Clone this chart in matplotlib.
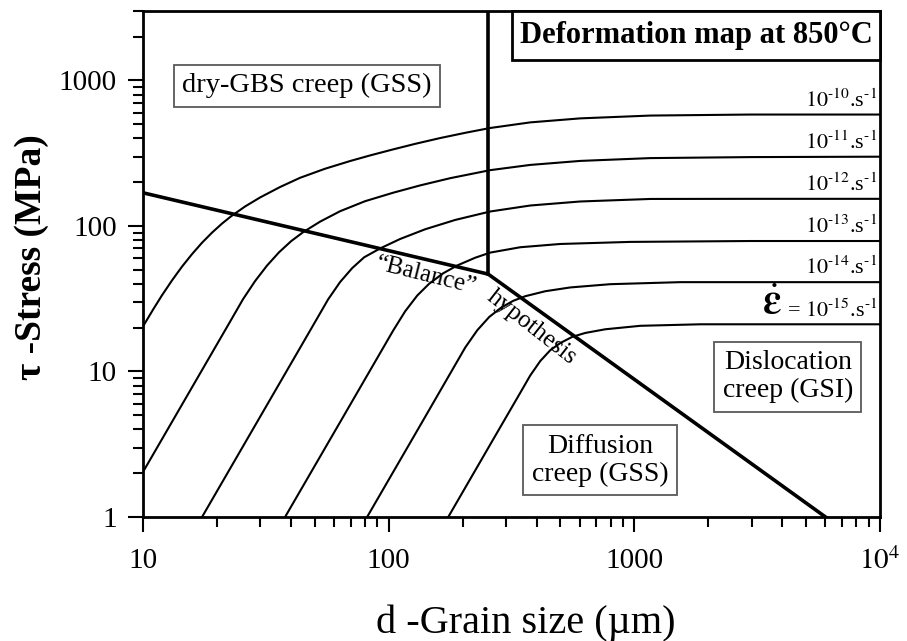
import matplotlib
matplotlib.use("Agg")
import matplotlib.pyplot as plt
from matplotlib.ticker import FixedLocator, LogLocator, NullFormatter
from matplotlib.patches import Rectangle

plt.rcParams['font.family'] = ['Liberation Serif', 'DejaVu Serif']
plt.rcParams['mathtext.fontset'] = 'stix'

# Iso-strain-rate contours: grain size d (µm) vs shear stress tau (MPa)
rate_exponents = [-10, -11, -12, -13, -14, -15]

d_rate_m10 = [10, 11.0, 11.95, 13.13, 14.42, 15.84, 17.39, 19.10, 20.98, 22.83,
              26.03, 29.97, 36.14, 43.6, 55.1, 69.7, 84.1, 104.3, 128.2, 162.1,
              204.9, 259, 377, 603, 1162, 2968, 10000]
tau_rate_m10 = [20.4, 26.7, 33.4, 42.3, 52.6, 64.1, 76.7, 90.0, 103.9, 116.5,
                136.1, 157.0, 185.2, 214.3, 247.3, 279.4, 305.4, 335.9, 366.6, 401.9,
                436.5, 471.2, 514.9, 548.7, 573.6, 582.9, 582.9]

d_rate_m11 = [10, 15.54, 22.62, 25.54, 28.59, 32.00, 35.81, 40.08, 44.84, 52.6,
              63.45, 80.2, 104.3, 134.4, 178.1, 259, 377, 603, 1162, 2968, 10000]
tau_rate_m11 = [2.04, 7.37, 22.0, 31.4, 41.8, 53.5, 66.0, 78.6, 90.6, 107.1,
                126.3, 148.0, 169.2, 190.0, 213.0, 241.8, 262.7, 279.9, 292.6, 297.3, 299.2]

d_rate_m12 = [17.39, 31.40, 47.88, 56.70, 63.45, 71.02, 79.47, 92.35, 111.4, 140.8,
              186.6, 259, 377, 603, 1162, 2968, 10000]
tau_rate_m12 = [1.0, 5.59, 19.1, 31.3, 41.2, 51.3, 60.9, 70.1, 81.4, 94.9,
                110.0, 125.7, 138.2, 147.3, 153.3, 153.6, 153.6]

d_rate_m13 = [37.87, 63.45, 104.3, 116.7, 130.6, 146.2, 166.7, 190.1, 225.1, 259,
              343.3, 500, 963, 2968, 10000]
tau_rate_m13 = [1.0, 4.49, 19.1, 25.9, 33.2, 40.1, 47.3, 53.5, 60.5, 65.6,
                71.4, 75.2, 77.7, 78.8, 78.8]

d_rate_m14 = [81.7, 134.4, 204.9, 229.4, 256.7, 287.3, 321.5, 359.7, 434.0, 548.7,
              798.5, 1539, 10000]
tau_rate_m14 = [1.0, 4.26, 14.6, 19.2, 23.7, 27.5, 30.6, 32.9, 35.6, 37.8,
                39.8, 41.1, 41.1]

d_rate_m15 = [174.8, 284.6, 343.3, 377.0, 414.1, 454.8, 500, 559.2, 631.6, 762.0,
              1058, 1857, 10000]
tau_rate_m15 = [1.0, 4.14, 7.14, 9.39, 11.8, 14.0, 15.7, 17.3, 18.4, 19.5,
                20.6, 21.1, 21.1]

# Mechanism boundaries
balance_d = [10, 254, 6000]
balance_tau = [169, 46.7, 1.0]
gbs_disl_d = [254, 254]
gbs_disl_tau = [46.7, 3000]

x_ticks = [10, 100, 1000, 10000]
x_ticklabels = ["10", "100", "1000", "$10^4$"]
y_ticks = [1, 10, 100, 1000]
y_ticklabels = ["1", "10", "100", "1000"]

contours = [
    (d_rate_m10, tau_rate_m10),
    (d_rate_m11, tau_rate_m11),
    (d_rate_m12, tau_rate_m12),
    (d_rate_m13, tau_rate_m13),
    (d_rate_m14, tau_rate_m14),
    (d_rate_m15, tau_rate_m15),
]

fig = plt.figure(figsize=(9.07, 6.41), dpi=100)
ax = fig.add_axes([143 / 907, 1 - 517 / 641, 737 / 907, 506 / 641])
ax.set_xscale('log')
ax.set_yscale('log')
ax.set_xlim(10, 10000)
ax.set_ylim(1, 3000)

for d, tau in contours:
    ax.plot(d, tau, color='black', lw=1.5, solid_joinstyle='round', zorder=2)

ax.plot(balance_d, balance_tau, color='black', lw=2.6, zorder=3)
ax.plot(gbs_disl_d, gbs_disl_tau, color='black', lw=2.6, zorder=3)

# Ticks
ax.xaxis.set_major_locator(FixedLocator(x_ticks))
ax.set_xticklabels(x_ticklabels)
ax.yaxis.set_major_locator(FixedLocator(y_ticks))
ax.set_yticklabels(y_ticklabels)
ax.xaxis.set_minor_locator(LogLocator(base=10, subs=range(2, 10)))
ax.yaxis.set_minor_locator(LogLocator(base=10, subs=range(2, 10)))
ax.xaxis.set_minor_formatter(NullFormatter())
ax.yaxis.set_minor_formatter(NullFormatter())
ax.tick_params(which='both', direction='out', width=1.5, colors='black',
               top=False, right=False)
ax.tick_params(which='major', length=11, labelsize=21)
ax.tick_params(axis='x', which='major', pad=11)
ax.tick_params(axis='y', which='major', pad=8)
ax.tick_params(which='minor', length=7)
for s in ax.spines.values():
    s.set_linewidth(2.0)

ax.set_xlabel("d -Grain size (µm)", fontsize=29)
ax.xaxis.set_label_coords(0.52, -0.172)
ax.set_ylabel("τ -Stress (MPa)", fontsize=27, fontweight='bold')
ax.yaxis.set_label_coords(-0.128, 0.514)

# Strain-rate labels at the right end of each contour
for exp, (d, tau) in zip(rate_exponents, contours):
    txt = r"$10^{\text{-}%d}$.s$^{\text{-}1}$" % (-exp)
    if exp == -15:
        txt = "= " + txt
    ax.annotate(txt, xy=(1.0, tau[-1]), xycoords=('axes fraction', 'data'),
                xytext=(-2, 2), textcoords='offset points',
                ha='right', va='bottom', fontsize=16, zorder=5)
ax.annotate(r"$\dot{\mathbf{\varepsilon}}$", xy=(1.0, tau_rate_m15[-1]),
            xycoords=('axes fraction', 'data'), xytext=(-78, 1),
            textcoords='offset points', ha='center', va='bottom',
            fontsize=30, zorder=5)

# Regime boxes
box_gray = dict(boxstyle='square,pad=0.3', fc='white', ec='0.35', lw=1.3)
ax.text(0.2225, 0.852, "dry-GBS creep (GSS)", transform=ax.transAxes,
        ha='center', va='center', fontsize=20.5, bbox=box_gray, zorder=6)
ax.text(0.875, 0.277, "Dislocation\ncreep (GSI)", transform=ax.transAxes,
        ha='center', va='center', fontsize=20, linespacing=1.15,
        bbox=box_gray, zorder=6)
ax.text(0.620, 0.112, "Diffusion\ncreep (GSS)", transform=ax.transAxes,
        ha='center', va='center', fontsize=20, linespacing=1.15,
        bbox=box_gray, zorder=6)

# Title box in the upper-right corner
ax.add_patch(Rectangle((0.5007, 0.9032), 0.4993, 0.0968, transform=ax.transAxes,
                       fc='white', ec='black', lw=2.0, zorder=6, clip_on=False))
ax.text(0.751, 0.951, "Deformation map at 850°C", transform=ax.transAxes,
        ha='center', va='center', fontsize=22, fontweight='bold', zorder=7)

# Labels along the boundary
ax.text(0.384, 0.478, "“Balance”", transform=ax.transAxes, rotation=-14,
        ha='center', va='center', fontsize=18, zorder=5)
ax.text(0.528, 0.375, "hypothesis", transform=ax.transAxes, rotation=-38,
        ha='center', va='center', fontsize=18, zorder=5)

fig.savefig("out.png", dpi=100)
